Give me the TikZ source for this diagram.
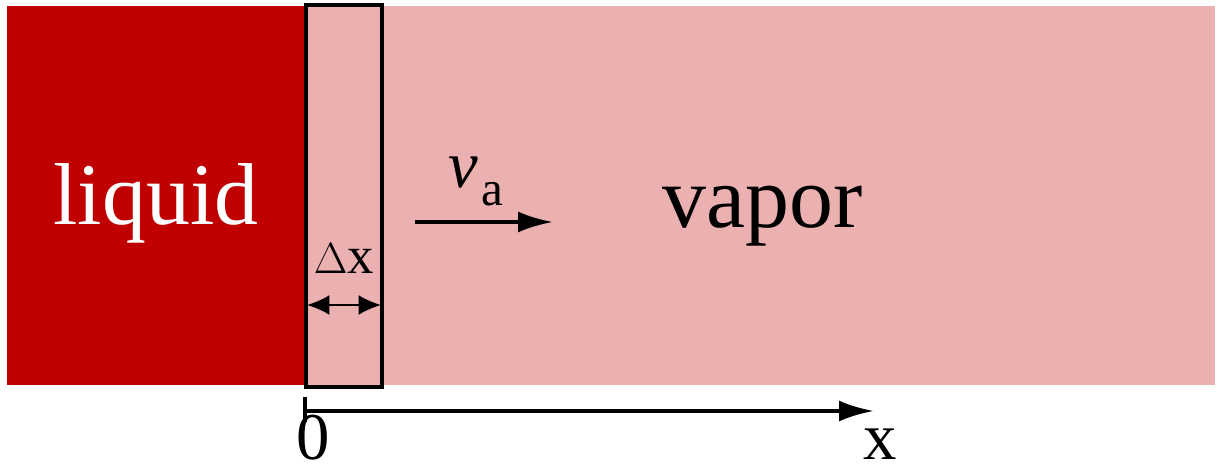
\documentclass[tikz,border=0pt]{standalone}
\usepackage{fontspec}
\setmainfont{Liberation Serif}
\usepackage{xcolor}
\usetikzlibrary{arrows.meta}

\definecolor{liquidred}{RGB}{192,0,0}
\definecolor{vaporpink}{RGB}{235,176,176}

\begin{document}
\begin{tikzpicture}[
    x=0.02cm, y=-0.02cm,
    lbl/.style={anchor=base, inner sep=0pt},
    big/.style={font=\fontsize{50}{60}\selectfont},
    mid/.style={font=\fontsize{38}{46}\selectfont},
    arr/.style={-{Latex[length=0.7cm,width=0.42cm]}, line width=2.3pt},
    dim/.style={{Latex[length=0.45cm,width=0.4cm]}-{Latex[length=0.45cm,width=0.4cm]}, line width=1.1pt}
  ]
    \useasboundingbox (0,0) rectangle (1225,475);
    % regions
    \fill[vaporpink] (305,6) rectangle (1215,385);
    \fill[liquidred] (7,6) rectangle (305,385);
    \draw[line width=2pt] (306,5) rectangle (382,387);
    % labels
    \node[lbl, big, text=white] (liquid) at (156,225) {liquid};
    \node[lbl, big] (vapor) at (763,228) {vapor};
    \node[lbl, font=\fontsize{30}{34}\selectfont] (dx) at (344,274) {$\Delta$x};
    \node[lbl, mid] (va) at (476,188)
      {\textit{v}\kern2pt\raisebox{-10pt}{\fontsize{28}{32}\selectfont a}};
    \node[lbl, mid] (zero) at (313,460) {0};
    \node[lbl, mid] (xlab) at (880,460) {x};
    % arrows
    \coordinate (vs) at (415,222);
    \coordinate (ve) at (553,222);
    \draw[arr] (vs) -- (ve);
    \coordinate (ds) at (307,305);
    \coordinate (de) at (381,305);
    \draw[dim] (ds) -- (de);
    \coordinate (xs) at (305,411);
    \coordinate (xe) at (874,411);
    \draw[arr] (xs) -- (xe);
    \draw[line width=2.3pt] (305,397) -- (305,422);
  \end{tikzpicture}
\end{document}
